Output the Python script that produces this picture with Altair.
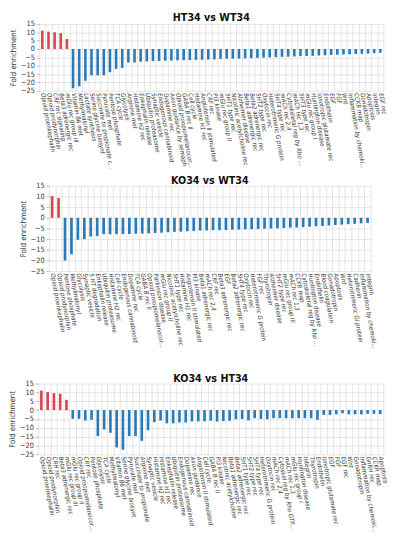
import altair as alt
import pandas as pd

RED = "#d8464f"
BLUE = "#2a7ab8"
FONT = "Liberation Sans Narrow, DejaVu Sans Condensed, sans-serif"

# ---------------- data ----------------
p1_labels = [
    "Opioid proenkephalin", "Opioid prodynorphin", "CRF rec signaling", "Beta3 adrenergic rec", "mGlu rec group III",
    "Vitamin B6 met", "Methylmalonyl", "Lactate synthesis", "Serine glycine biosynt", "Succinate to propionate conv",
    "Pyruvate met", "Pentose phosphate", "TCA cycle", "Glycolysis", "Arginine met",
    "Histamine H2 rec", "Enkephalin release", "Ubiquitin proteasome", "Synaptic vesicle", "Endogenous cannabinoid",
    "Dopamine rec", "Axon guidance by semaph", "Opioid proopiomelanocortin", "GABA B rec II", "Cell cycle",
    "Histamine H1 rec", "Angiotensin II stimulated", "CRF rec", "PI3 kinase", "mGlu rec group II",
    "5HT1 type rec", "Nicotinic acetylcholine rec", "Alzheimer disease", "Beta1 adrenergic rec", "Beta2 adrenergic rec",
    "5HT2 type rec", "Oxytocin rec", "Heterotrimeric G protein", "5HT4 type rec", "mACh rec 2,4",
    "Cytoskeletal reg by Rho GTPase", "mACh rec 1,3", "5HT3 type rec", "mGlu rec group I", "Huntington disease",
    "Ionotropic glutamate rec", "Endothelin", "EGF", "FGF", "Wnt",
    "Inflammation by chemokine/cytok", "CCKR map", "Gonadotropin", "Apoptosis", "Integrin", "EGF rec",
]
p1_values = [
    11.0, 10.4, 10.0, 9.5, 6.0,
    -23.5, -22.3, -19.0, -15.8, -15.8, -15.8, -13.9, -11.9, -11.3, -8.1,
    -8.1, -7.6, -7.5, -7.3, -7.2, -7.0, -6.9, -6.8, -6.7, -6.6,
    -6.5, -6.4, -6.3, -6.2, -5.9, -5.8, -5.7, -5.7, -5.6, -5.5,
    -5.3, -5.2, -5.0, -4.9, -4.7, -4.6, -4.5, -4.3, -4.2, -4.1,
    -3.9, -3.8, -3.6, -3.5, -3.3, -3.2, -3.0, -2.9, -2.7, -2.5, -2.2,
]

p2_labels = [
    "Opioid proenkephalin", "Opioid prodynorphin", "Pentose phosphate", "Methylmalonyl", "Glycolysis",
    "Synaptic vesicle", "5 HT degradation", "Enkephalin release", "Ubiquitin proteasome", "Histamine H2 rec",
    "Cell cycle", "Endogenous cannabinoid", "Dopamine rec", "TCA cycle", "GABA B rec II",
    "Opioid proopiomelanocortin", "Parkinson disease", "mGlu rec group II", "Nicotinic acetylcholine rec", "5HT1 type rec",
    "Histamine H1 rec", "Angiotensin II stimulated", "PI3 kinase", "Beta1 adrenergic rec", "mACh rec 2,4",
    "CRF rec", "Beta3 adrenergic rec", "EGF", "Beta2 adrenergic rec", "5HT4 type rec",
    "Oxytocin rec", "Heterotrimeric G protein", "FGF rec", "Thyrotropin", "Alzheimer disease",
    "5HT2 type rec", "mGlu rec group III", "mACh rec 1,3", "CCKR map", "Cytoskeletal reg by Rho GTPase",
    "Huntington disease", "Endothelin", "Blood coagulation", "Gonadotropin", "Apoptosis",
    "Wnt", "Heterotrimeric Gi protein", "Cadherin", "Inflammation by chemokine/cytok", "Integrin",
]
p2_values = [
    10.2, 9.3,
    -20.0, -17.1, -10.3, -10.0, -8.8, -8.6, -7.7, -7.7, -7.7, -7.6,
    -7.6, -7.5, -7.4, -7.3, -7.1, -7.0, -6.8, -6.6, -6.5, -6.3,
    -6.2, -6.0, -5.9, -5.8, -5.8, -5.7, -5.6, -5.5, -5.4, -5.3,
    -5.2, -5.1, -5.0, -4.9, -4.8, -4.6, -4.5, -4.4, -4.2, -4.0,
    -3.8, -3.6, -3.4, -3.2, -3.0, -2.8, -2.6, -2.4,
]

p3_labels = [
    "Opioid proenkephalin", "Opioid prodynorphin", "CRH rec", "Beta3 adrenergic rec", "mGlu rec group III",
    "mGlu rec group II", "Opioid proopiomelanocortin", "CRF rec", "Pentose phosphate", "Glycolysis",
    "TCA cycle", "Methylmalonyl", "Vitamin B6 met", "Serine glycine biosynt", "Pyruvate met",
    "Succinate to propionate", "Arginine met", "Synaptic vesicle", "Histamine H2 rec", "Histamine H1 rec",
    "Enkephalin release", "Ubiquitin proteasome", "Endogenous cannabinoid", "Dopamine rec", "Axon guidance",
    "Angiotensin II stimulated", "Cell cycle", "GABA B rec II", "PI3 kinase", "Nicotinic acetylcholine",
    "Beta1 adrenergic rec", "Beta2 adrenergic rec", "5HT1 type rec", "5HT2 type rec", "5HT4 type rec",
    "Heterotrimeric G protein", "Oxytocin rec", "mACh rec 2,4", "Cytoskel reg by Rho GTPase", "mACh rec 1,3",
    "mGlu rec group I", "Huntington disease", "Integrin", "Thyrotropin", "Endothelin",
    "Ionotropic glutamate rec", "EGF", "FGF", "EGF rec", "Wnt",
    "Gonadotropin", "Inflammation by chemokine/cytokine", "GnRH rec", "CCKR map", "Apoptosis",
]
p3_values = [
    11.0, 10.2, 9.6, 9.2, 5.8,
    -4.9, -4.9, -5.9, -5.5, -14.7, -11.0, -12.8, -21.1, -22.4, -14.7,
    -14.7, -17.4, -11.4, -6.8, -5.9, -7.5, -7.5, -7.0, -7.0, -6.4,
    -6.4, -6.4, -6.0, -6.5, -6.2, -6.0, -5.2, -5.0, -5.8, -4.6,
    -5.0, -5.2, -4.6, -4.6, -4.6, -4.6, -4.6, -4.6, -4.6, -5.5,
    -2.7, -2.7, -2.4, -1.8, -2.4, -2.4, -2.4, -2.1, -2.1, -2.3,
]

Y_TICKS = [15, 10, 5, 0, -5, -10, -15, -20, -25]


def panel(labels, values, title, w, h, title_offset=0, label_limit=80):
    df = pd.DataFrame({"pathway": labels, "value": values})
    df["sign"] = ["pos" if v > 0 else "neg" for v in values]
    x = alt.X(
        "pathway:N",
        sort=labels,
        scale=alt.Scale(paddingInner=0, paddingOuter=0),
        axis=alt.Axis(
            title=None,
            labelAngle=80,
            labelAlign="left",
            labelBaseline="middle",
            labelFont=FONT,
            labelFontSize=6.4,
            labelFontStyle="italic",
            labelColor="#333333",
            labelLimit=label_limit,
            labelPadding=2,
            ticks=False,
            domain=False,
            grid=True,
            tickBand="extent",
            gridColor="#dddddd",
            gridWidth=0.8,
            labelOverlap=False,
        ),
    )
    y = alt.Y(
        "value:Q",
        scale=alt.Scale(domain=[-25, 15], nice=False, zero=True),
        axis=alt.Axis(
            title="Fold enrichment",
            titleFont=FONT,
            titleFontSize=8,
            titleFontWeight="normal",
            titleColor="#333333",
            titlePadding=3,
            values=Y_TICKS,
            labelFont=FONT,
            labelFontSize=7.5,
            labelColor="#333333",
            labelPadding=2,
            tickSize=3,
            tickColor="#bbbbbb",
            domain=False,
            gridColor="#dddddd",
            gridWidth=0.8,
        ),
    )
    bars = (
        alt.Chart(df)
        .mark_bar(width=alt.RelativeBandSize(0.42))
        .encode(
            x=x,
            y=y,
            color=alt.Color(
                "sign:N",
                scale=alt.Scale(domain=["pos", "neg"], range=[RED, BLUE]),
                legend=None,
            ),
        )
    )
    return bars.properties(
        width=w,
        height=h,
        title=alt.TitleParams(
            text=title,
            font=FONT,
            fontSize=11,
            fontWeight="bold",
            color="#111111",
            anchor="middle",
            offset=title_offset,
        ),
    )


c1 = panel(p1_labels, p1_values, "HT34 vs WT34", 355, 69, -3)
c2 = panel(p2_labels, p2_values, "KO34 vs WT34", 332, 88, -4)
c3 = panel(p3_labels, p3_values, "KO34 vs HT34", 356, 73, -4)

chart = (
    alt.vconcat(alt.vconcat(c1, c2, spacing=6, center=True), c3, spacing=24, center=True)
    .properties(padding={"top": -4, "left": 0, "right": 0, "bottom": 0})
    .configure_view(stroke=None)
)

chart.save("out.html", embed_options={"renderer": "svg", "actions": False})
